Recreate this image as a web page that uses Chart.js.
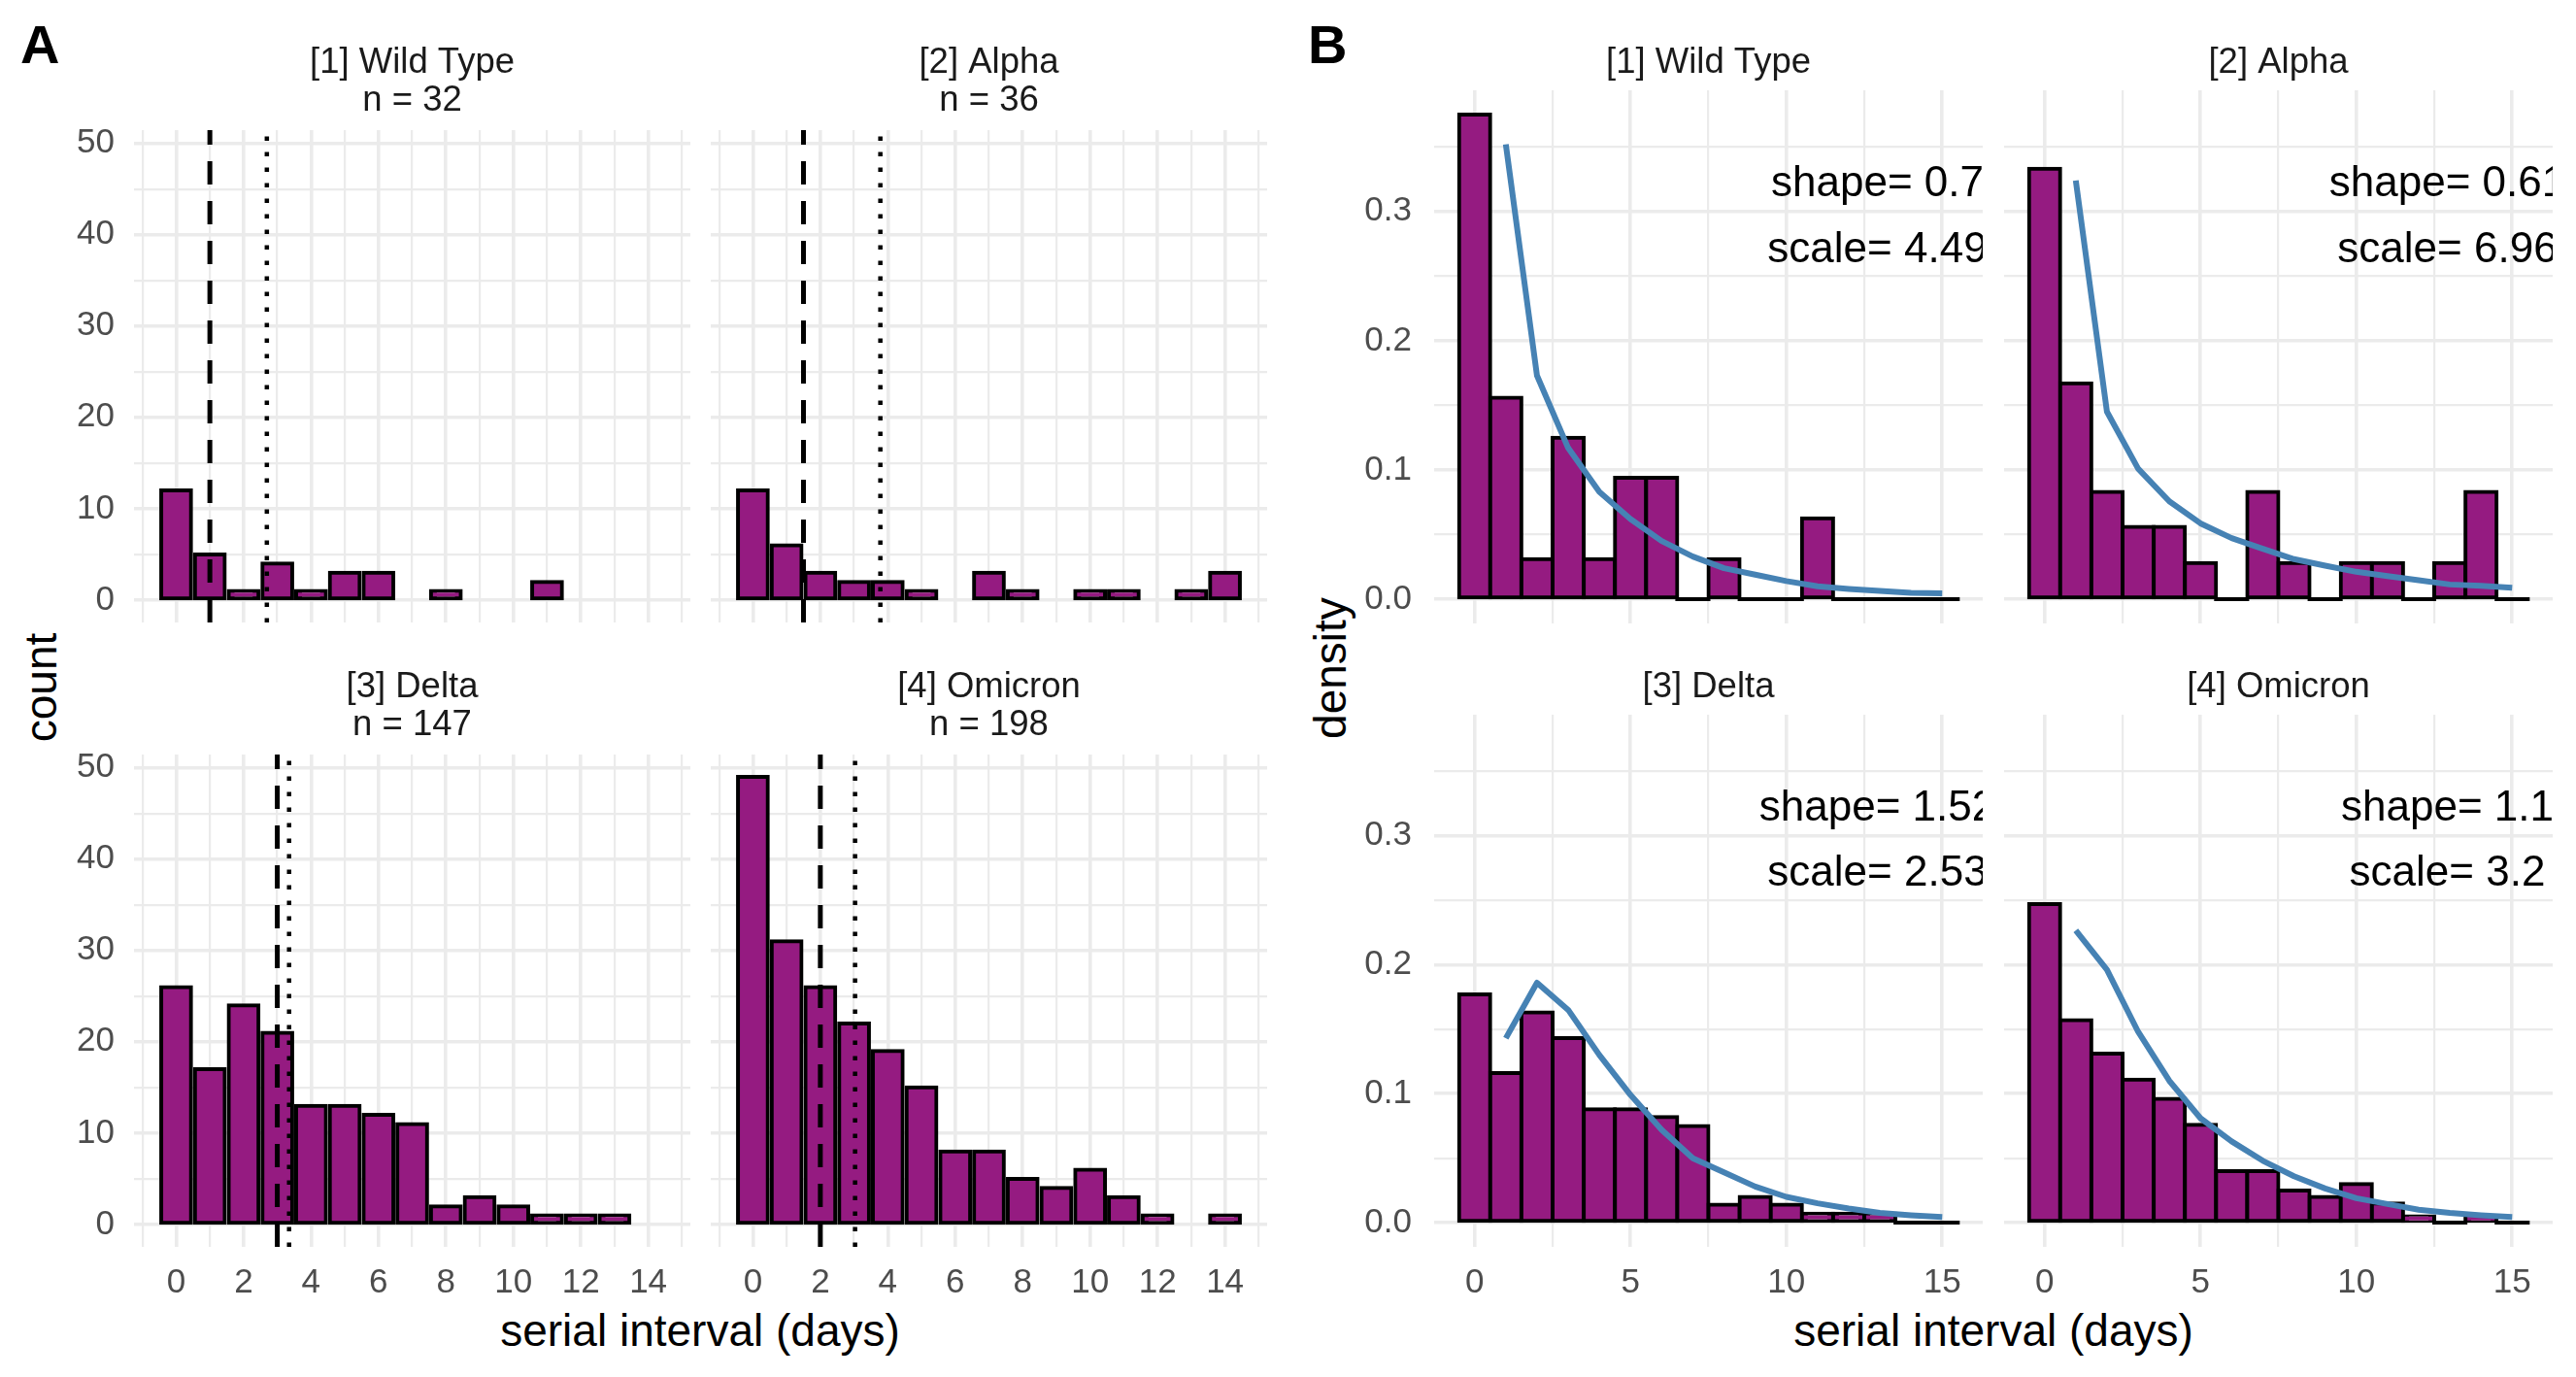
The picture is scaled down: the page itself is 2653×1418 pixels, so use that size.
<!DOCTYPE html>
<html><head><meta charset="utf-8">
<script src="https://cdn.jsdelivr.net/npm/chart.js@4.4.1/dist/chart.umd.min.js"></script>
<style>
html,body{margin:0;padding:0;background:#fff;}
body{width:2653px;height:1418px;position:relative;overflow:hidden;font-family:'Liberation Sans',Arial,sans-serif;}
canvas{position:absolute;}
.lbl{position:absolute;white-space:nowrap;line-height:1;color:#000;font-size:46px;}
.ctr{transform:translate(-50%,-50%);}
.rot{transform:translate(-50%,-50%) rotate(-90deg);}
</style></head><body>
<div class="lbl" style="left:21px;top:17.6px;font-size:56px;font-weight:bold">A</div>
<div class="lbl" style="left:1347px;top:17.6px;font-size:56px;font-weight:bold">B</div>
<div class="lbl rot" style="left:41.5px;top:708px">count</div>
<div class="lbl rot" style="left:1370px;top:687.5px">density</div>
<div class="lbl ctr" style="left:721px;top:1370px">serial interval (days)</div>
<div class="lbl ctr" style="left:2053px;top:1370px">serial interval (days)</div>
<script>
// ---------------- data ----------------
const variants = ['[1] Wild Type', '[2] Alpha', '[3] Delta', '[4] Omicron'];
const sampleSizes = [32, 36, 147, 198];

// Panel A: counts per day (serial interval 0..14)
const daysA = [0,1,2,3,4,5,6,7,8,9,10,11,12,13,14];
const countWildType = [12,5,1,4,1,3,3,0,1,0,0,2,0,0,0];
const countAlpha    = [12,6,3,2,2,1,0,3,1,0,1,1,0,1,3];
const countDelta    = [26,17,24,21,13,13,12,11,2,3,2,1,1,1,0];
const countOmicron  = [49,31,26,22,19,15,8,8,5,4,6,3,1,0,1];
const medianDays = [1, 1.5, 3, 2];      // dashed lines
const meanDays   = [2.69, 3.78, 3.35, 3.03]; // dotted lines

// Panel B: density per day (0..15) and fitted curve (1..15)
const daysB = [0,1,2,3,4,5,6,7,8,9,10,11,12,13,14,15];
const densityWildType = [0.375,0.156,0.031,0.125,0.031,0.094,0.094,0,0.031,0,0,0.0625,0,0,0,0];
const densityAlpha    = [0.333,0.167,0.083,0.056,0.056,0.028,0,0.083,0.028,0,0.028,0.028,0,0.028,0.083,0];
const densityDelta    = [0.177,0.116,0.163,0.143,0.088,0.088,0.082,0.075,0.014,0.020,0.014,0.007,0.007,0.007,0,0];
const densityOmicron  = [0.247,0.157,0.131,0.111,0.096,0.076,0.040,0.040,0.025,0.020,0.030,0.015,0.005,0,0.005,0];
const fitDays = [1,2,3,4,5,6,7,8,9,10,11,12,13,14,15];
const fitWildType = [0.352,0.173,0.117,0.083,0.062,0.045,0.033,0.024,0.019,0.014,0.010,0.008,0.0065,0.005,0.0046];
const fitAlpha    = [0.324,0.145,0.101,0.0757,0.0587,0.0473,0.039,0.031,0.026,0.0212,0.0179,0.0147,0.0114,0.0104,0.0088];
const fitDelta    = [0.143,0.186,0.165,0.130,0.099,0.072,0.050,0.039,0.028,0.020,0.015,0.011,0.0076,0.0058,0.0044];
const fitOmicron  = [0.2265,0.196,0.148,0.110,0.081,0.063,0.048,0.036,0.0265,0.019,0.0145,0.010,0.0076,0.0058,0.0044];
const shapeLabels = ['shape= 0.7', 'shape= 0.61', 'shape= 1.52', 'shape= 1.1'];
const scaleLabels = ['scale= 4.49', 'scale= 6.96', 'scale= 2.53', 'scale= 3.2'];

// ---------------- layout / style ----------------
const FONT = "'Liberation Sans', Arial, sans-serif";
Chart.defaults.font.family = FONT;
const PURPLE = '#951B81';
const GRID = '#EBEBEB';
const YW = 100, XH = 70, ML = 140, MT = 90, MR = 20, MB = 90;
const rectsA = [{l:138,t:134,r:711,b:641},{l:732,t:134,r:1305,b:641},{l:138,t:777,r:711,b:1284},{l:732,t:777,r:1305,b:1284}];
const rectsB = [{l:1477,t:93,r:2042,b:642},{l:2064,t:93,r:2629,b:642},{l:1477,t:736,r:2042,b:1284},{l:2064,t:736,r:2629,b:1284}];

function textPlugin(lines, offsets, annot) {
  return {
    id: 'panelText',
    afterDatasetsDraw(chart) {
      if (!annot) return;
      const {ctx, chartArea: a, scales: {x, y}} = chart;
      ctx.save();
      ctx.beginPath(); ctx.rect(a.left, a.top, a.right - a.left, a.bottom - a.top); ctx.clip();
      ctx.font = '44px ' + FONT; ctx.fillStyle = '#000'; ctx.textAlign = 'center'; ctx.textBaseline = 'alphabetic';
      ctx.fillText(annot[0], x.getPixelForValue(12.92), y.getPixelForValue(0.3115));
      ctx.fillText(annot[1], x.getPixelForValue(12.92), y.getPixelForValue(0.261));
      ctx.restore();
    },
    afterDraw(chart) {
      const {ctx, chartArea: a} = chart;
      ctx.save();
      ctx.font = '36.5px ' + FONT; ctx.fillStyle = '#1A1A1A'; ctx.textAlign = 'center'; ctx.textBaseline = 'alphabetic';
      lines.forEach((s, i) => ctx.fillText(s, (a.left + a.right) / 2, a.top - offsets[i]));
      ctx.restore();
    }
  };
}

function buildChart(rect, o) {
  const c = document.createElement('canvas');
  const w = rect.r - rect.l + ML + MR, h = rect.b - rect.t + MT + MB;
  c.width = w; c.height = h;
  Object.assign(c.style, {left: (rect.l - ML) + 'px', top: (rect.t - MT) + 'px', width: w + 'px', height: h + 'px'});
  document.body.appendChild(c);
  const zeroPad = s => { s.paddingLeft = 0; s.paddingRight = 0; s.paddingTop = 0; s.paddingBottom = 0; };
  return new Chart(c, {
    type: 'bar',
    data: {datasets: o.datasets},
    options: {
      responsive: false, animation: false,
      layout: {padding: {left: ML - YW, top: MT, right: MR, bottom: MB - XH}},
      plugins: {legend: {display: false}, tooltip: {enabled: false}, title: {display: false}},
      scales: {
        x: {
          type: 'linear', min: o.xMin, max: o.xMax, offset: false,
          grid: {offset: false, color: GRID, drawTicks: false, lineWidth: ctx => ctx.tick ? (o.xMajor(ctx.tick.value) ? 3.6 : 2.2) : 0},
          border: {display: false},
          ticks: {display: o.showX, stepSize: o.xStep, includeBounds: false, autoSkip: false, maxRotation: 0, minRotation: 0,
                  padding: 16, color: '#4D4D4D', font: {size: 35}, callback: v => o.xMajor(v) && o.xLab(v) ? String(v) : ''},
          afterFit: s => { s.height = XH; zeroPad(s); }
        },
        y: {
          type: 'linear', min: o.yMin, max: o.yMax, beginAtZero: false,
          grid: {color: GRID, drawTicks: false, lineWidth: ctx => ctx.tick ? (o.yMajor(ctx.tick.value) ? 3.6 : 2.2) : 0},
          border: {display: false},
          ticks: {display: o.showY, stepSize: o.yStep, includeBounds: false, autoSkip: false,
                  padding: o.yPad, color: '#4D4D4D', font: {size: 35}, callback: v => o.yMajor(v) ? o.yFmt(v) : ''},
          afterFit: s => { s.width = YW; zeroPad(s); }
        }
      }
    },
    plugins: [textPlugin(o.titles, o.titleOffsets, o.annot)]
  });
}

const isZero = ctx => ctx.raw && ctx.raw.y === 0;

// ---------------- Panel A ----------------
const countsA = [countWildType, countAlpha, countDelta, countOmicron];
const A_Y = [-2.45, 51.45];
countsA.forEach((counts, i) => {
  buildChart(rectsA[i], {
    xMin: -1.25, xMax: 15.25, xStep: 1,
    xMajor: v => Math.abs(v % 2) < 1e-9, xLab: v => v >= 0 && v <= 14,
    yMin: A_Y[0], yMax: A_Y[1], yStep: 5,
    yMajor: v => Math.abs(v % 10) < 1e-9, yFmt: v => String(v), yPad: 20,
    showX: i >= 2, showY: i % 2 === 0,
    titles: [variants[i], 'n = ' + sampleSizes[i]], titleOffsets: [59, 20.5],
    datasets: [
      {type: 'line', data: [{x: medianDays[i], y: A_Y[0]}, {x: medianDays[i], y: A_Y[1]}],
       borderColor: '#000', borderWidth: 5, borderDash: [24, 17], borderCapStyle: 'butt', pointRadius: 0, fill: false, order: 1},
      {type: 'line', data: [{x: meanDays[i], y: A_Y[0]}, {x: meanDays[i], y: A_Y[1]}],
       borderColor: '#000', borderWidth: 4.5, borderDash: [4.5, 11.5], borderCapStyle: 'butt', pointRadius: 0, fill: false, order: 1},
      {type: 'bar', data: daysA.map((d, k) => ({x: d, y: counts[k] ? counts[k] : null})),
       backgroundColor: PURPLE, borderColor: '#000', borderWidth: 4, borderSkipped: false, inflateAmount: 2,
       barPercentage: 0.885, categoryPercentage: 1, order: 2}
    ]
  });
});

// ---------------- Panel B ----------------
const densB = [densityWildType, densityAlpha, densityDelta, densityOmicron];
const fitsB = [fitWildType, fitAlpha, fitDelta, fitOmicron];
densB.forEach((dens, i) => {
  buildChart(rectsB[i], {
    xMin: -1.3, xMax: 16.3, xStep: 2.5,
    xMajor: v => Math.abs(v % 5) < 1e-9, xLab: v => true,
    yMin: -0.01875, yMax: 0.39375, yStep: 0.05,
    yMajor: v => Math.round(v * 100) % 10 === 0, yFmt: v => (Math.round(v * 10) / 10).toFixed(1), yPad: 23,
    showX: i >= 2, showY: i % 2 === 0,
    titles: [variants[i]], titleOffsets: [18],
    annot: [shapeLabels[i], scaleLabels[i]],
    datasets: [
      {type: 'line', data: fitDays.map((d, k) => ({x: d, y: fitsB[i][k]})),
       borderColor: '#4682B4', borderWidth: 6, tension: 0, pointRadius: 0, fill: false,
       borderCapStyle: 'butt', borderJoinStyle: 'round', order: 0},
      {type: 'bar', data: daysB.map((d, k) => ({x: d, y: dens[k]})),
       backgroundColor: ctx => isZero(ctx) ? '#000' : PURPLE,
       borderColor: '#000', borderWidth: ctx => isZero(ctx) ? 0 : 4, borderSkipped: false, inflateAmount: 2,
       barPercentage: 1, categoryPercentage: 1, order: 2}
    ]
  });
});
</script>
</body></html>
